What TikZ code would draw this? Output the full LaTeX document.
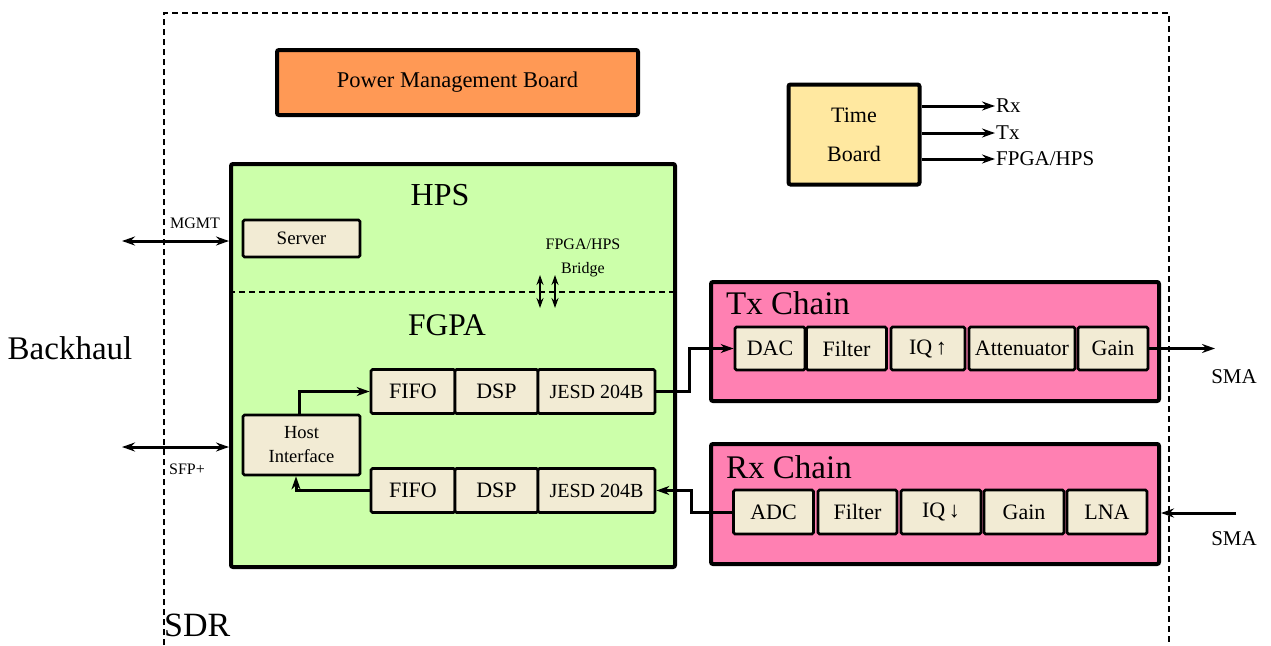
\documentclass[tikz,border=0pt]{standalone}
\usepackage{fontspec}
\setmainfont{Liberation Serif}
\usetikzlibrary{arrows.meta,calc}
\definecolor{orangec}{HTML}{FF9955}
\definecolor{yellowc}{HTML}{FFE8A0}
\definecolor{greenc}{HTML}{CCFFAA}
\definecolor{pinkc}{HTML}{FF80B2}
\definecolor{beigec}{HTML}{F2EBD4}
\begin{document}
\begin{tikzpicture}[x=1pt,y=-1pt,
  bigbox/.style={draw, line width=4pt, rounded corners=2pt, inner sep=0pt},
  blk/.style={draw, line width=2.7pt, rounded corners=1.5pt, fill=beigec, inner sep=0pt, minimum height=43pt, font=\fontsize{22}{26}\selectfont},
  arr/.style={line width=3pt, -{Stealth[length=13pt,width=9pt]}},
  darr/.style={line width=3pt, {Stealth[length=13pt,width=9pt]}-{Stealth[length=13pt,width=9pt]}},
  tarr/.style={line width=2pt, {Stealth[length=10pt,width=7pt]}-{Stealth[length=10pt,width=7pt]}},
  lbl/.style={inner sep=1pt, font=\fontsize{21}{24}\selectfont}]
\useasboundingbox (0,0) rectangle (1271,645);
% outer SDR frame
\draw[line width=1.4pt, dash pattern=on 6pt off 4pt] (164,645) -- (164,13) -- (1169,13) -- (1169,645);
\node[anchor=west, inner sep=0pt, font=\fontsize{34}{34}\selectfont] (sdr) at (164,625) {SDR};
\node[inner sep=0pt, font=\fontsize{33}{33}\selectfont] (backhaul) at (70,348) {Backhaul};
% power board
\node[bigbox, fill=orangec, minimum width=361pt, minimum height=65pt, font=\fontsize{22.5}{26}\selectfont] (pmb) at (457.5,82.5) {Power Management Board};
% time board
\node[bigbox, fill=yellowc, minimum width=131pt, minimum height=100pt, align=center, font=\fontsize{22}{39}\selectfont] (time) at (854,134.5) {Time\\Board};
\node[lbl, anchor=west] (lrx) at (995,106) {Rx};
\node[lbl, anchor=west] (ltx) at (995,133) {Tx};
\node[lbl, anchor=west] (lfh) at (995,159) {FPGA/HPS};
\draw[arr] (time.east |- lrx.west) -- (lrx.west);
\draw[arr] (time.east |- ltx.west) -- (ltx.west);
\draw[arr] (time.east |- lfh.west) -- (lfh.west);
% FPGA/HPS board
\node[bigbox, fill=greenc, minimum width=444pt, minimum height=403pt] (fpga) at (453,365.5) {};
\node[inner sep=0pt, font=\fontsize{32}{32}\selectfont] (hps) at (440,195) {HPS};
\node[inner sep=0pt, font=\fontsize{31.5}{32}\selectfont] (fgpa) at (447,325) {FGPA};
\coordinate (dl) at (231,292);
\draw[line width=1.6pt, dash pattern=on 6pt off 4pt] (fpga.west |- dl) -- (fpga.east |- dl);
\node[align=center, inner sep=0pt, font=\fontsize{16}{24}\selectfont] (bridge) at (583,258) {FPGA/HPS\\Bridge};
\coordinate (b1t) at (540,275); \coordinate (b1b) at (540,308);
\coordinate (b2t) at (555,275); \coordinate (b2b) at (555,308);
\draw[tarr] (b1t) -- (b1b);
\draw[tarr] (b2t) -- (b2b);
\node[blk, minimum width=117pt, minimum height=37pt, font=\fontsize{19}{22}\selectfont] (server) at (301.5,238.5) {Server};
\node[blk, minimum width=117pt, minimum height=60pt, align=center, font=\fontsize{18.5}{24}\selectfont] (host) at (301.5,445) {Host\\Interface};
\node[blk, minimum width=84pt, minimum height=44pt] (fifo1) at (413,391.5) {FIFO};
\node[blk, minimum width=83pt, minimum height=44pt] (dsp1) at (496.5,391.5) {DSP};
\node[blk, minimum width=117pt, minimum height=44pt, font=\fontsize{20}{24}\selectfont] (jesd1) at (596.5,391.5) {JESD 204B};
\node[blk, minimum width=84pt, minimum height=44pt] (fifo2) at (413,490.5) {FIFO};
\node[blk, minimum width=83pt, minimum height=44pt] (dsp2) at (496.5,490.5) {DSP};
\node[blk, minimum width=117pt, minimum height=44pt, font=\fontsize{20}{24}\selectfont] (jesd2) at (596.5,490.5) {JESD 204B};
\draw[arr] ([xshift=-2.5pt]host.north) |- (fifo1.west);
\draw[arr] (fifo2.west) -| ([xshift=-5.5pt]host.south);
% backhaul links
\coordinate (mg) at (122,241);
\coordinate (sf) at (122,447);
\draw[darr] (mg) -- (fpga.west |- mg);
\draw[darr] (sf) -- (fpga.west |- sf);
\node[inner sep=0pt, font=\fontsize{16}{16}\selectfont] (mgmtl) at (195,223) {MGMT};
\node[inner sep=0pt, font=\fontsize{16}{16}\selectfont] (sfpl) at (187,469) {SFP+};
% Tx chain
\node[bigbox, fill=pinkc, minimum width=448pt, minimum height=119pt] (txc) at (935,341.5) {};
\node[anchor=west, inner sep=0pt, font=\fontsize{33}{33}\selectfont] (txl) at (726,303) {Tx Chain};
\node[blk, minimum width=70pt] (dac) at (770,348.5) {DAC};
\node[blk, minimum width=80pt] (filt1) at (846.5,348.5) {Filter};
\node[blk, minimum width=74pt] (iqu) at (928,348.5) {IQ\,↑};
\node[blk, minimum width=106pt] (att) at (1022,348.5) {Attenuator};
\node[blk, minimum width=70pt] (gain1) at (1113,348.5) {Gain};
% Rx chain
\node[bigbox, fill=pinkc, minimum width=448pt, minimum height=120pt] (rxc) at (935,504) {};
\node[anchor=west, inner sep=0pt, font=\fontsize{33}{33}\selectfont] (rxl) at (726,467) {Rx Chain};
\node[blk, minimum width=80pt, minimum height=44pt] (adc) at (773.5,512) {ADC};
\node[blk, minimum width=79pt, minimum height=44pt] (filt2) at (857.5,512) {Filter};
\node[blk, minimum width=80pt, minimum height=44pt] (iqd) at (941,512) {IQ\,↓};
\node[blk, minimum width=80pt, minimum height=44pt] (gain2) at (1024,512) {Gain};
\node[blk, minimum width=80pt, minimum height=44pt] (lna) at (1107,512) {LNA};
% chain links
\draw[arr] (jesd1.east) -- ++(33,0) |- (dac.west);
\draw[arr] (adc.west) -- ++(-40.5,0) |- (jesd2.east);
% SMA
\coordinate (smaout) at (1215,349);
\coordinate (smain) at (1236,513);
\draw[arr] (gain1.east) -- (gain1.east -| smaout);
\draw[arr] (smain) -- (rxc.east |- smain);
\node[lbl] (sma1) at (1234,377) {SMA};
\node[lbl] (sma2) at (1234,539) {SMA};
\end{tikzpicture}
\end{document}
